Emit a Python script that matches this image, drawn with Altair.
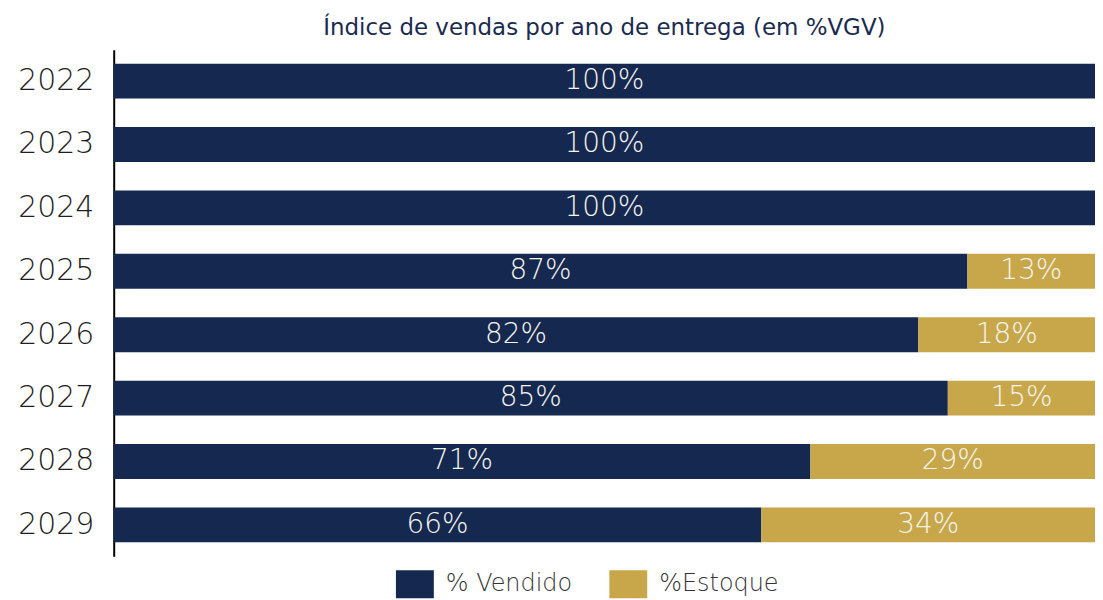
import altair as alt
import pandas as pd

years = ["2022", "2023", "2024", "2025", "2026", "2027", "2028", "2029"]
vendido = [100, 100, 100, 87, 82, 85, 71, 66]
estoque = [0, 0, 0, 13, 18, 15, 29, 34]
series = ["% Vendido", "%Estoque"]
colors = ["#15284F", "#C8A74B"]

FONT = "DejaVu Sans"

rows = []
for y, v, e in zip(years, vendido, estoque):
    rows.append({"ano": y, "serie": series[0], "valor": v, "ordem": 0, "label": f"{v}%"})
    rows.append({"ano": y, "serie": series[1], "valor": e, "ordem": 1, "label": f"{e}%" if e > 0 else ""})
df = pd.DataFrame(rows)

base = alt.Chart(df).transform_stack(
    stack="valor", groupby=["ano"], as_=["x0", "x1"], sort=[alt.SortField("ordem")]
).transform_calculate(mid="(datum.x0 + datum.x1) / 2")

ysc = alt.Y("ano:N", sort=years, title=None,
            scale=alt.Scale(paddingInner=0.45, paddingOuter=0.22),
            axis=alt.Axis(ticks=False, labelFontSize=30, labelColor="#1E1E1E",
                          labelFont=FONT, labelPadding=20, domainColor="#000000",
                          domainWidth=2, labelFontWeight=300))

rect_path = "M-1.357,-1L1.357,-1L1.357,1L-1.357,1Z"

bars = base.mark_bar().encode(
    y=ysc,
    x=alt.X("x0:Q", scale=alt.Scale(domain=[0, 100], nice=False), axis=None),
    x2="x1:Q",
    color=alt.Color("serie:N", scale=alt.Scale(domain=series, range=colors),
                    sort=series,
                    legend=alt.Legend(title=None, orient="none", direction="horizontal",
                                      legendX=288, legendY=522,
                                      symbolType=rect_path, symbolSize=784,
                                      symbolStrokeWidth=0, symbolOpacity=1,
                                      labelFontSize=24, labelFont=FONT, labelFontWeight=300,
                                      labelColor="#333333", columnPadding=37,
                                      labelOffset=17)),
)

texts = base.mark_text(color="#F6F4EE", fontSize=28, font=FONT, fontWeight=300).encode(
    y=alt.Y("ano:N", sort=years),
    x=alt.X("mid:Q"),
    text="label:N",
)

chart = alt.layer(bars, texts).properties(
    width=984, height=508,
    padding={"left": 9, "right": 0, "top": 8, "bottom": 0},
    title=alt.TitleParams("Índice de vendas por ano de entrega (em %VGV)",
                          fontSize=23, font=FONT, fontWeight="normal",
                          color="#1A2B4F", anchor="middle", offset=10),
).configure_view(stroke=None)

chart.save("out.html", embed_options={"renderer": "svg", "actions": False})
